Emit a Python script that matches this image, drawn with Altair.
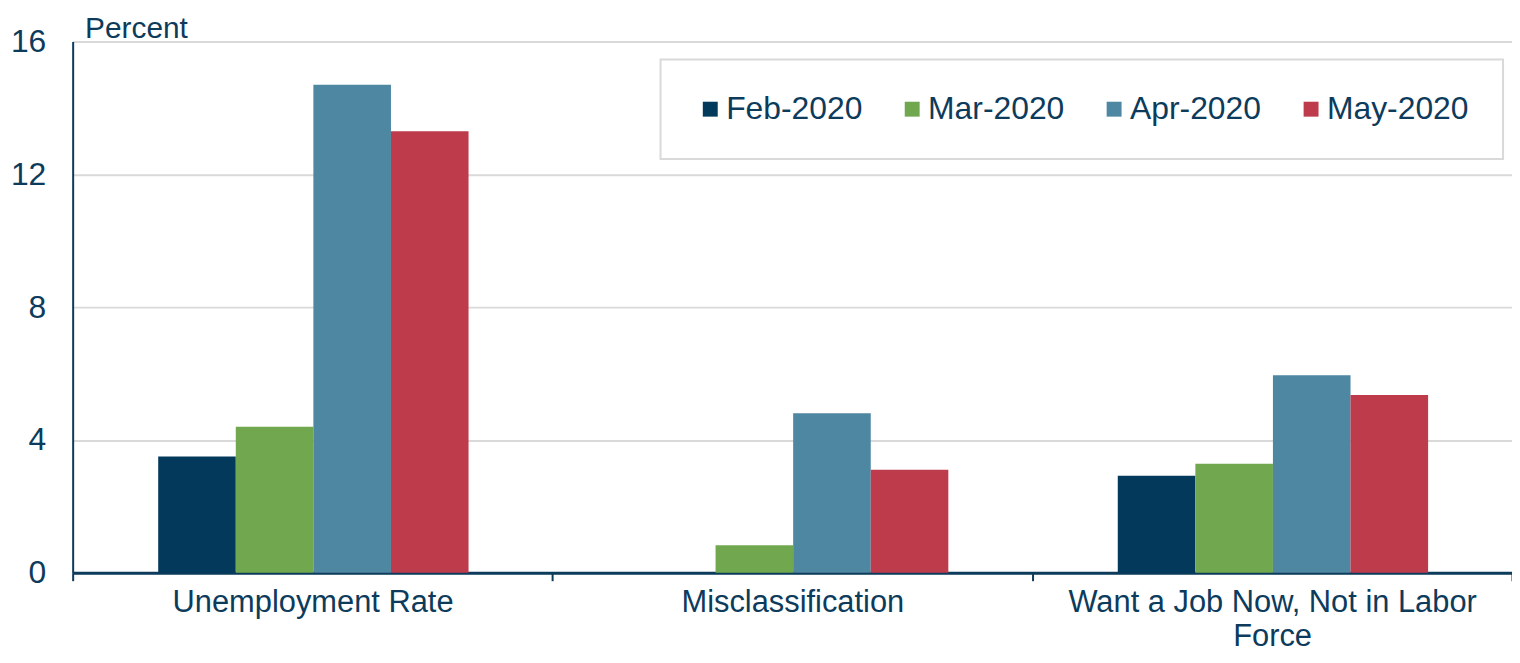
import altair as alt
import pandas as pd

categories = ["Unemployment Rate", "Misclassification", "Want a Job Now, Not in Labor Force"]
months = ["Feb-2020", "Mar-2020", "Apr-2020", "May-2020"]
feb = [3.5, 0.0, 2.92]
mar = [4.4, 0.83, 3.28]
apr = [14.7, 4.8, 5.95]
may = [13.3, 3.1, 5.35]
colors = ["#033a5c", "#71a84f", "#4e87a1", "#be3b4b"]
y_ticks = [0, 4, 8, 12, 16]

rows = []
for m, vals in zip(months, [feb, mar, apr, may]):
    for c, v in zip(categories, vals):
        rows.append({"category": c, "month": m, "value": v})
df = pd.DataFrame(rows)

txt = "#0d3b5c"
FONT = "Liberation Sans"
FS = 32

chart = alt.Chart(df).mark_bar().encode(
    x=alt.X("category:N", sort=categories,
            scale=alt.Scale(paddingInner=0, paddingOuter=0),
            axis=alt.Axis(title=None, labelAngle=0, tickBand="extent",
                          domainColor=txt, domainWidth=3, tickColor=txt, tickWidth=2,
                          tickSize=8, labelPadding=7, labelFontSize=31, labelColor=txt,
                          labelFont=FONT, labelLineHeight=34, labelLimit=0,
                          labelExpr="datum.label == 'Want a Job Now, Not in Labor Force' ? ['Want a Job Now, Not in Labor', 'Force'] : datum.label")),
    xOffset=alt.XOffset("month:N", sort=months,
                        scale=alt.Scale(paddingInner=0, paddingOuter=0, range=[86, 398])),
    y=alt.Y("value:Q", scale=alt.Scale(domain=[0, 16], nice=False),
            axis=alt.Axis(values=y_ticks, title="Percent", titleAngle=0, titleAlign="left",
                          titleBaseline="alphabetic", titleX=12, titleY=-4,
                          titleFontSize=30, titleFontWeight="normal", titleColor=txt,
                          titleFont=FONT, ticks=False, labelPadding=27,
                          labelFontSize=FS, labelColor=txt, labelFont=FONT,
                          domainColor=txt, domainWidth=2,
                          gridColor="#d9d9d9", gridWidth=2)),
    color=alt.Color("month:N", sort=months,
                    scale=alt.Scale(domain=months, range=colors),
                    legend=alt.Legend(title=None, orient="none", direction="horizontal",
                                      legendX=591, legendY=18, padding=34,
                                      strokeColor="#d9d9d9",
                                      symbolType="square", symbolSize=225,
                                      symbolStrokeWidth=0, symbolOpacity=1,
                                      labelFontSize=FS, labelColor=txt, labelFont=FONT,
                                      labelOffset=0, columnPadding=34, labelLimit=0)),
).properties(
    width=1447, height=534,
    padding={"left": 65, "top": 32, "right": 0, "bottom": 81},
    autosize=alt.AutoSizeParams(type="none"),
).configure_view(stroke=None).configure_legend(strokeWidth=2)

chart.save("out.html", embed_options={"renderer": "svg", "actions": False})
